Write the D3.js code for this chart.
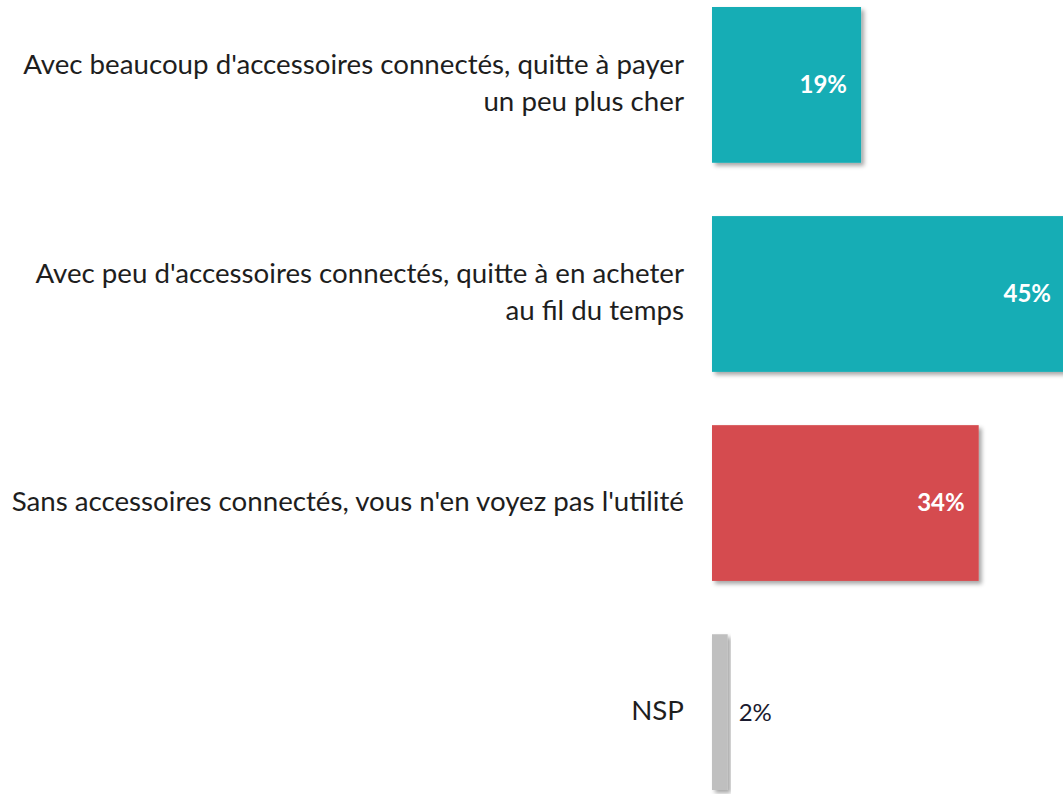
<!DOCTYPE html>
<html>
<head>
<meta charset="utf-8">
<script src="https://cdn.jsdelivr.net/npm/d3@7"></script>
<style>
  body { margin: 0; background: #fff; }
  svg { display: block; font-family: Lato, "Open Sans", sans-serif; }
</style>
</head>
<body>
<div id="chart"></div>
<script>
const labels = [
  ["Avec beaucoup d'accessoires connectés, quitte à payer", "un peu plus cher"],
  ["Avec peu d'accessoires connectés, quitte à en acheter", "au fil du temps"],
  ["Sans accessoires connectés, vous n'en voyez pas l'utilité"],
  ["NSP"]
];
const values = [19, 45, 34, 2];
const colors = ["#14adb5", "#14adb5", "#d54b4f", "#bfbfbf"];

const width = 1063, height = 794;

const svg = d3.select('#chart')
  .append('svg')
  .attr('width', width)
  .attr('height', height);

const defs = svg.append('defs');
defs.append('filter')
  .attr('id', 'shadow')
  .attr('x', '-10%').attr('y', '-10%')
  .attr('width', '130%').attr('height', '130%')
  .append('feDropShadow')
  .attr('dx', 3).attr('dy', 3)
  .attr('stdDeviation', 2)
  .attr('flood-color', '#000')
  .attr('flood-opacity', 0.35);

const idx = d3.range(values.length);

const y = d3.scaleBand()
  .domain(idx)
  .range([7, 790])
  .paddingInner(0.255)
  .paddingOuter(0);

const x = d3.scaleLinear()
  .domain([0, 45])
  .range([712, 1065]);

// bars
svg.selectAll('rect.bar')
  .data(idx)
  .join('rect')
  .attr('class', 'bar')
  .attr('x', x(0))
  .attr('y', (i) => y(i))
  .attr('width', (i) => x(values[i]) - x(0))
  .attr('height', y.bandwidth())
  .attr('fill', (i) => colors[i])
  .attr('filter', 'url(#shadow)');

// value labels
svg.selectAll('text.value')
  .data(idx)
  .join('text')
  .attr('class', 'value')
  .attr('x', (i) => values[i] < 10 ? x(values[i]) + 11 : x(values[i]) - 14)
  .attr('y', (i) => y(i) + y.bandwidth() / 2)
  .attr('dy', '0.35em')
  .attr('text-anchor', (i) => values[i] < 10 ? 'start' : 'end')
  .style('font-size', '24px')
  .style('font-weight', (i) => values[i] < 10 ? 'normal' : 'bold')
  .attr('fill', (i) => values[i] < 10 ? '#1a1a2e' : '#fff')
  .text((i) => values[i] + '%');

// category labels
const lineH = 37;
const cat = svg.selectAll('text.cat')
  .data(idx)
  .join('text')
  .attr('class', 'cat')
  .attr('text-anchor', 'end')
  .attr('fill', '#1e1e1e')
  .style('font-size', '27.7px');

cat.each(function (i) {
  const lines = labels[i];
  const cy = y(i) + y.bandwidth() / 2 - 2;
  const t = d3.select(this);
  lines.forEach((l, k) => {
    t.append('tspan')
      .attr('x', 684)
      .attr('y', cy + (k - (lines.length - 1) / 2) * lineH)
      .attr('dy', '0.35em')
      .text(l);
  });
});
</script>
</body>
</html>
